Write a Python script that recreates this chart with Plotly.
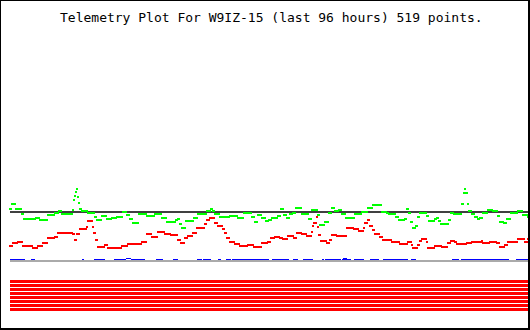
import plotly.graph_objects as go

TITLE = "Telemetry Plot For W9IZ-15 (last 96 hours) 519 points."
N_POINTS = 519

# Channel 1 (green) as (level, run length) pairs, level measured downward on the plot
green_runs = [
    (209,2),(204,4),(209,6),(214,2),(219,12),(218,4),(220,8),(215,7),(213,4),(211,3),
    (214,11),(210,1),(200,1),(196,1),(192,1),(189,1),(197,1),(203,1),(209,2),(211,6),
    (213,7),(217,2),(220,5),(216,5),(219,5),(218,5),(217,6),(212,4),(215,3),(219,3),
    (223,6),(214,8),(216,8),(214,7),(218,5),(222,9),(220,2),(219,2),(224,2),(228,4),
    (221,8),(218,4),(214,9),(211,4),(209,2),(211,2),(214,5),(217,10),(216,8),(218,6),
    (213,8),(217,3),(222,3),(215,4),(218,4),(221,3),(220,3),(218,6),(216,3),(209,3),
    (215,3),(218,3),(214,3),(213,3),(208,6),(214,7),(219,3),(210,6),(215,2),(225,5),
    (222,4),(213,3),(208,3),(211,4),(210,3),(214,4),(218,9),(214,7),(212,6),(208,5),
    (205,9),(212,5),(213,2),(214,7),(217,3),(220,6),(219,2),(209,2),(213,2),(222,2),
    (228,3),(226,2),(217,2),(213,7),(216,2),(221,6),(219,2),(218,2),(221,2),(224,8),
    (220,2),(213,3),(214,8),(204,2),(193,1),(189,1),(193,2),(204,1),(211,3),(214,3),
    (217,3),(219,2),(218,3),(213,5),(210,5),(211,5),(216,2),(222,4),(223,3),(219,4),
    (213,7),(211,5),(215,5),(217,1),
]

# Channel 2 (red)
red_runs = [
    (246,3),(243,5),(242,5),(246,10),(248,5),(246,5),(243,5),(238,7),(237,3),(233,15),
    (234,2),(240,2),(234,3),(229,7),(227,1),(221,5),(227,1),(233,2),(240,2),(247,7),
    (245,3),(248,14),(246,6),(244,14),(242,5),(234,5),(237,6),(232,7),(234,6),(235,7),
    (240,3),(243,4),(238,3),(236,5),(233,4),(228,8),(224,2),(220,3),(218,5),(223,3),
    (226,5),(229,2),(233,2),(238,3),(242,5),(244,5),(246,8),(245,6),(247,8),(243,6),
    (242,3),(238,4),(237,5),(238,3),(239,5),(236,6),(238,3),(233,5),(234,5),(236,5),
    (232,1),(226,1),(223,3),(217,1),(227,1),(235,2),(241,6),(243,3),(240,2),(235,5),
    (236,10),(228,7),(229,5),(231,5),(228,1),(223,3),(220,2),(226,3),(230,2),(234,5),
    (237,3),(240,9),(242,8),(244,8),(242,4),(245,1),(248,5),(245,2),(241,2),(239,5),
    (242,1),(248,7),(246,7),(247,6),(243,3),(241,4),(242,2),(244,10),(243,5),(242,10),
    (241,1),(243,7),(242,7),(243,3),(247,5),(245,3),(242,10),(239,7),(242,3),(239,1),
]

# Channel 3 (blue): point-index ranges where it sits just above the baseline
blue_ranges = [
    (0,14),(21,24),(72,73),(84,94),(104,115),(121,134),(146,152),(163,167),(187,191),
    (193,200),(208,210),(216,220),(222,258),(262,278),(283,287),(293,302),(312,313),
    (315,330),(332,340),(344,353),(360,368),(373,397),(401,405),(442,448),(451,457),
    (458,498),(506,518),
]
blue_peaks = [(116,120),(333,336)]

blue_level = 259.5
blue_peak_level = 258.5
ref_level = 212      # horizontal reference line
base_level = 261     # channel baseline (grey)
bit_levels = [281.5, 285.5, 289.5, 293.5, 297.5, 301.5, 305.5, 309.5]  # 8 digital bits, all on

def expand(runs):
    out = []
    for v, n in runs:
        out.extend([v] * n)
    return out

green = expand(green_runs)
red = expand(red_runs)
assert len(green) == N_POINTS, len(green)
assert len(red) == N_POINTS, len(red)
idx = list(range(N_POINTS))

def seg_xy(ranges, level):
    xs, ys = [], []
    for a, b in ranges:
        xs += [a, b + 1, None]
        ys += [level, level, None]
    return xs, ys

fig = go.Figure()

# reference line
fig.add_trace(go.Scatter(x=[0, N_POINTS - 1], y=[ref_level, ref_level], mode="lines",
                         line=dict(color="#404040", width=2), hoverinfo="skip"))
# bits
for lv in bit_levels:
    fig.add_trace(go.Scatter(x=[0, N_POINTS - 1], y=[lv, lv], mode="lines",
                             line=dict(color="#ff0000", width=3), hoverinfo="skip"))
# blue channel
bx, by = seg_xy(blue_ranges, blue_level)
fig.add_trace(go.Scatter(x=bx, y=by, mode="lines", line=dict(color="#0000ff", width=1),
                         hoverinfo="skip"))
px_, py_ = seg_xy(blue_peaks, blue_peak_level)
fig.add_trace(go.Scatter(x=px_, y=py_, mode="lines", line=dict(color="#0000ff", width=1),
                         hoverinfo="skip"))
# baseline grey
fig.add_trace(go.Scatter(x=[0, N_POINTS - 1], y=[base_level, base_level], mode="lines",
                         line=dict(color="#aaaaaa", width=2), hoverinfo="skip"))
# analog channels
fig.add_trace(go.Scatter(x=idx, y=green, mode="markers",
                         marker=dict(symbol="square", size=2, color="#00ff00",
                                     line=dict(width=0))))
fig.add_trace(go.Scatter(x=idx, y=red, mode="markers",
                         marker=dict(symbol="square", size=2, color="#ff0000",
                                     line=dict(width=0))))

W, H = 530, 330
shapes = [
    dict(type="line", xref="paper", yref="paper", x0=0.5 / W, x1=0.5 / W, y0=0, y1=1,
         line=dict(color="black", width=1)),
    dict(type="line", xref="paper", yref="paper", x0=0, x1=1, y0=1 - 0.5 / H, y1=1 - 0.5 / H,
         line=dict(color="black", width=1)),
    dict(type="line", xref="paper", yref="paper", x0=1 - 1.0 / W, x1=1 - 1.0 / W, y0=0, y1=1,
         line=dict(color="black", width=2)),
    dict(type="line", xref="paper", yref="paper", x0=0, x1=1, y0=1.0 / H, y1=1.0 / H,
         line=dict(color="black", width=2)),
]

fig.update_layout(
    width=W, height=H,
    margin=dict(l=0, r=0, t=0, b=0),
    paper_bgcolor="white", plot_bgcolor="white",
    showlegend=False,
    xaxis=dict(range=[-10, 520], visible=False, fixedrange=True),
    yaxis=dict(range=[330, 0], visible=False, fixedrange=True),
    shapes=shapes,
    annotations=[dict(text=TITLE, xref="paper", yref="paper", x=271 / W, y=1 - 17 / H,
                      xanchor="center", yanchor="middle", showarrow=False,
                      font=dict(family="DejaVu Sans Mono", size=13, color="black"))],
)

fig.write_html("out.html", config={"displayModeBar": False})
